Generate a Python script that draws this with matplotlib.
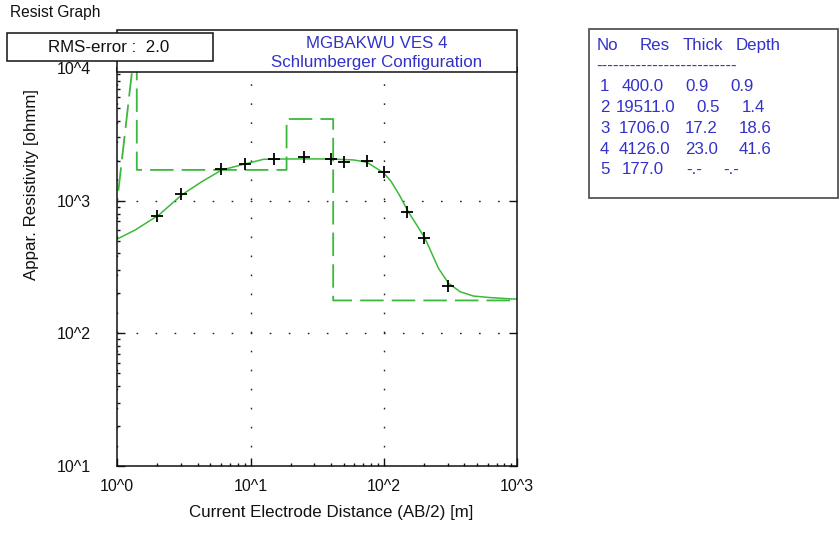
import matplotlib.pyplot as plt
from matplotlib.patches import Rectangle
from matplotlib.ticker import LogLocator, NullFormatter

plt.rcParams['font.family'] = ['Liberation Sans', 'DejaVu Sans']

W, H = 839, 560  # 픽셀 크기

# 측정값 (십자 표시)
ab2_obs = [2, 3, 6, 9, 15, 25, 40, 50, 75, 100, 150, 200, 300]
rho_obs = [767, 1123, 1733, 1880, 2050, 2146, 2071, 1958, 2000, 1656, 818, 521, 229]

# 계산 곡선
ab2_fit = [1.0, 1.36, 2.05, 3.04, 4.3, 6.07, 9.08, 12.5, 17.6, 27, 39.4, 59, 74.3,
           98.9, 113, 130, 152, 176, 203, 228, 256, 304, 372, 469, 625, 883, 1000]
rho_fit = [514, 601, 780, 1104, 1390, 1702, 1892, 2050, 2061, 2065, 2061, 2028, 1950,
           1626, 1400, 1110, 826, 656, 521, 402, 310, 239, 206, 191, 186, 182, 181]

# 층 모델
layer_no = [1, 2, 3, 4, 5]
layer_res = [400.0, 19511.0, 1706.0, 4126.0, 177.0]
layer_thick = [0.9, 0.5, 17.2, 23.0]
layer_depth = [0.9, 1.4, 18.6, 41.6]
x_end = 1000

xtick_vals = [1, 10, 100, 1000]
xtick_labels = ['10^0', '10^1', '10^2', '10^3']
ytick_vals = [10, 100, 1000, 10000]
ytick_labels = ['10^1', '10^2', '10^3', '10^4']

title1 = 'MGBAKWU VES 4'
title2 = 'Schlumberger Configuration'
rms_text = 'RMS-error :  2.0'

green = '#3cb83c'
blue = '#3232c8'
fs = 12.2
fs_tick = 11.5


def fx(px):
    return px / W


def fy(py):
    return 1 - py / H


# 모델 계단선 만들기
model_x = [layer_depth[0]]
model_y = [layer_res[0]]
for i in range(1, len(layer_depth)):
    model_x += [layer_depth[i], layer_depth[i]]
    model_y += [layer_res[i], layer_res[i + 1]]
model_x.append(x_end)
model_y.append(layer_res[-1])

fig = plt.figure(figsize=(W / 100, H / 100), dpi=100)
fig.patch.set_facecolor('white')
ax = fig.add_axes([fx(117.3), fy(466), fx(517.3) - fx(117.3), fy(68) - fy(466)])

ax.set_xscale('log')
ax.set_yscale('log')
ax.set_xlim(1, 1000)
ax.set_ylim(10, 10000)

ax.grid(True, which='major', color='#222222', linestyle=(0, (1.2, 12.5)), linewidth=1.0)

ax.plot(model_x, model_y, color=green, linewidth=1.3, dashes=(13, 4.5))
ax.plot(ab2_fit, rho_fit, color=green, linewidth=1.1)
ax.plot(ab2_obs, rho_obs, linestyle='none', marker='+', markersize=9,
        markeredgewidth=1.3, color='black')

ax.set_xticks(xtick_vals)
ax.set_xticklabels(xtick_labels)
ax.set_yticks(ytick_vals)
ax.set_yticklabels(ytick_labels)
ax.xaxis.set_minor_locator(LogLocator(base=10, subs=range(2, 10), numticks=20))
ax.yaxis.set_minor_locator(LogLocator(base=10, subs=range(2, 10), numticks=20))
ax.xaxis.set_minor_formatter(NullFormatter())
ax.yaxis.set_minor_formatter(NullFormatter())

ax.tick_params(which='major', direction='in', length=6, width=1.0, colors='#111111',
               labelsize=fs_tick, right=True, top=False)
ax.tick_params(which='minor', direction='in', length=2.5, width=1.0, colors='#111111',
               right=False, top=False)
ax.tick_params(axis='x', which='major', pad=9.5)
ax.tick_params(axis='y', which='major', pad=19)
for sp in ax.spines.values():
    sp.set_linewidth(1.1)
    sp.set_color('#111111')

# 제목 상자
fig.add_artist(Rectangle((fx(117.3), fy(72)), fx(517.3) - fx(117.3), fy(30) - fy(72),
                         transform=fig.transFigure, facecolor='white',
                         edgecolor='#111111', linewidth=1.1, zorder=5))
fig.text(fx(377), fy(43), title1, color=blue, fontsize=fs, ha='center', va='center', zorder=6)
fig.text(fx(377), fy(62), title2, color=blue, fontsize=fs, ha='center', va='center', zorder=6)

# RMS 상자
fig.add_artist(Rectangle((fx(6.7), fy(61)), fx(213.3) - fx(6.7), fy(33.3) - fy(61),
                         transform=fig.transFigure, facecolor='white',
                         edgecolor='#111111', linewidth=1.1, zorder=7))
fig.text(fx(108.5), fy(48), rms_text, color='#111111', fontsize=fs,
         ha='center', va='center', zorder=8)

fig.text(fx(10), fy(12), 'Resist Graph', color='#111111', fontsize=11.2,
         ha='left', va='center')

# 축 제목
fig.text(fx(331), fy(513), 'Current Electrode Distance (AB/2) [m]', color='#111111',
         fontsize=fs, ha='center', va='center')
fig.text(fx(32), fy(185), 'Appar. Resistivity [ohmm]', color='#111111',
         fontsize=fs, ha='center', va='center', rotation=90)

# 오른쪽 표
fig.add_artist(Rectangle((fx(589), fy(198)), fx(838) - fx(589), fy(29) - fy(198),
                         transform=fig.transFigure, facecolor='white',
                         edgecolor='#555555', linewidth=1.3, zorder=1))
header_x = [596.7, 640, 682.7, 735.7]
for hx, h in zip(header_x, ['No', 'Res', 'Thick', 'Depth']):
    fig.text(fx(hx), fy(45.7), h, color=blue, fontsize=fs, ha='left', va='center', zorder=2)
fig.text(fx(596.7), fy(66), '-' * 25, color=blue, fontsize=fs, ha='left', va='center', zorder=2)

row_y = [86.7, 107.5, 128.5, 149.3, 170]
res_x = [621.7, 616, 618.3, 618.3, 621.7]
thick_x = [685, 696.7, 685, 685, 686.7]
depth_x = [730.7, 741.7, 738.3, 738.3, 723.3]
for i in range(len(layer_no)):
    y = fy(row_y[i])
    fig.text(fx(600), y, str(layer_no[i]), color=blue, fontsize=fs, ha='left', va='center', zorder=2)
    fig.text(fx(res_x[i]), y, f'{layer_res[i]:.1f}', color=blue, fontsize=fs,
             ha='left', va='center', zorder=2)
    if i < len(layer_thick):
        t_txt = f'{layer_thick[i]:.1f}'
        d_txt = f'{layer_depth[i]:.1f}'
    else:
        t_txt = '-.-'
        d_txt = '-.-'
    fig.text(fx(thick_x[i]), y, t_txt, color=blue, fontsize=fs, ha='left', va='center', zorder=2)
    fig.text(fx(depth_x[i]), y, d_txt, color=blue, fontsize=fs, ha='left', va='center', zorder=2)

fig.savefig('out.png', dpi=100, facecolor='white')
